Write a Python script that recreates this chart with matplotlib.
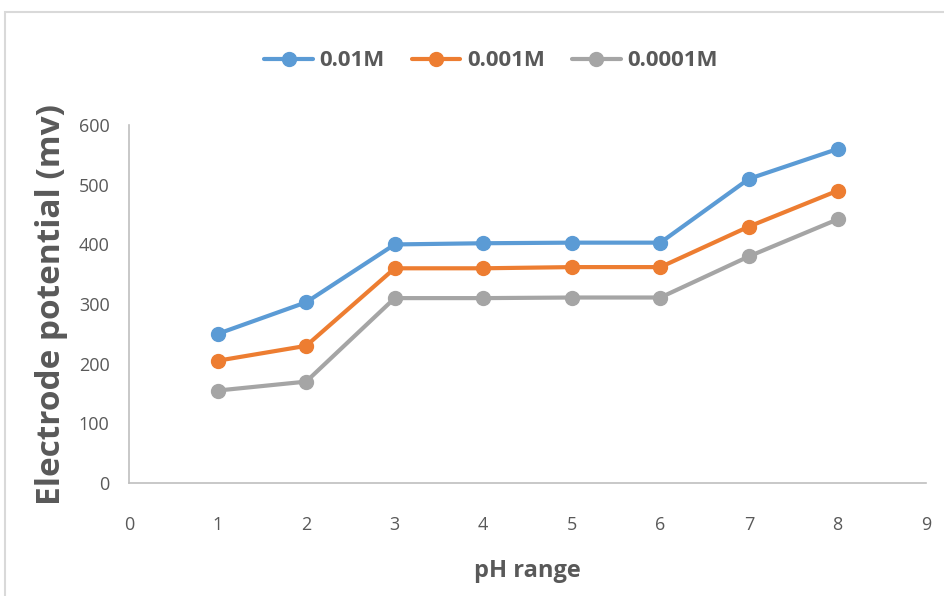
import matplotlib.pyplot as plt
from matplotlib.patches import Rectangle

plt.rcParams['font.family'] = ['Open Sans', 'DejaVu Sans']

ph = [1, 2, 3, 4, 5, 6, 7, 8]
conc_01 = [250, 303, 400, 402, 403, 403, 510, 560]
conc_001 = [205, 230, 360, 360, 362, 362, 430, 490]
conc_0001 = [155, 170, 310, 310, 311, 311, 380, 442]
labels = ['0.01M', '0.001M', '0.0001M']
colors = ['#5b9bd5', '#ed7d31', '#a5a5a5']

fig = plt.figure(figsize=(9.44, 5.96), dpi=100)
fig.patches.append(Rectangle((5 / 944, -0.1), 1.2, (596 - 12) / 596 + 0.1,
                             transform=fig.transFigure, fill=False,
                             edgecolor='#d9d9d9', lw=1.5))
ax = fig.add_axes([0.1367, 0.1896, 0.8443, 0.6004])

for ys, lab, c in zip([conc_01, conc_001, conc_0001], labels, colors):
    ax.plot(ph, ys, color=c, lw=3, marker='o', markersize=10, label=lab,
            solid_capstyle='round')

ax.set_xlim(0, 9)
ax.set_ylim(0, 600)
ax.set_xticks(range(0, 10))
ax.set_yticks(range(0, 700, 100))
for s in ['top', 'right']:
    ax.spines[s].set_visible(False)
for s in ['left', 'bottom']:
    ax.spines[s].set_color('#bfbfbf')
    ax.spines[s].set_linewidth(1.2)
ax.tick_params(length=0, labelsize=13, labelcolor='#595959')
ax.tick_params(axis='x', pad=24)
ax.tick_params(axis='y', pad=14)

ax.set_xlabel('pH range', fontsize=17, fontweight='bold', color='#595959', labelpad=18)
ax.set_ylabel('Electrode potential (mv)', fontsize=24, fontweight='bold',
              color='#595959', labelpad=8)

fig.legend(loc='center', bbox_to_anchor=(0.52, 0.898), ncol=3, frameon=False,
           handlelength=2.2, columnspacing=1.2, handletextpad=0.3,
           labelcolor='#595959', prop={'weight': 'bold', 'size': 16})

fig.savefig('out.png', dpi=100)
